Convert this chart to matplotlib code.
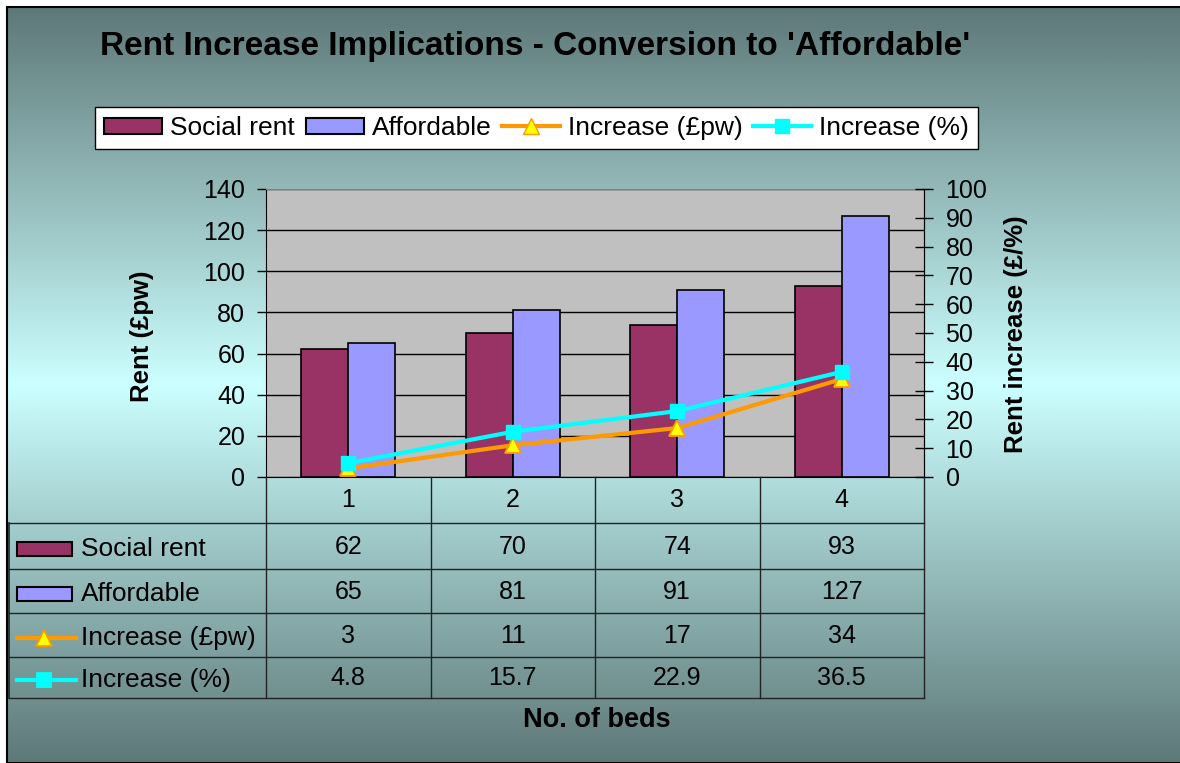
import numpy as np
import matplotlib
matplotlib.use('Agg')
import matplotlib.pyplot as plt
from matplotlib.lines import Line2D
from matplotlib.patches import Patch, Rectangle
from matplotlib.colors import LinearSegmentedColormap

# data
beds = ['1', '2', '3', '4']
social_rent = [62, 70, 74, 93]
affordable = [65, 81, 91, 127]
increase_pw = [3, 11, 17, 34]
increase_pct = [4.8, 15.7, 22.9, 36.5]

series_names = ['Social rent', 'Affordable', 'Increase (£pw)', 'Increase (%)']

W, H = 1180, 763
plt.rcParams['font.family'] = ['Liberation Sans', 'DejaVu Sans']

c_social = '#993366'
c_afford = '#9999FF'
c_pw = '#FF9900'
c_pct = '#00FFFF'
c_bg_dark = '#5E7878'
c_bg_light = '#CCFFFF'
line_w = 3.0


def fx(px):
    return px / W


def fy(py):
    return 1 - py / H


fig = plt.figure(figsize=(W / 100, H / 100), dpi=100)

# gradient background of the chart area
bg = fig.add_axes([fx(7), 0, 1 - fx(7), fy(7)])
bg.set_axis_off()
cmap = LinearSegmentedColormap.from_list('bg', [c_bg_dark, c_bg_light, c_bg_dark])
grad = np.linspace(0, 1, 512).reshape(-1, 1)
bg.imshow(grad, aspect='auto', cmap=cmap, extent=[0, 1, 0, 1])
bg.add_patch(Rectangle((0, 0), 1.01, 1, fill=False, edgecolor='black', lw=1.5,
                       transform=bg.transAxes, clip_on=False))

# main plot area
left, right, top, bottom = 266, 924, 189, 477
ax = fig.add_axes([fx(left), fy(bottom), fx(right - left), (bottom - top) / H])
ax.set_facecolor('#C0C0C0')
x = np.arange(len(beds))
w = 1 / 3.5
ax.bar(x - w / 2, social_rent, w, color=c_social, edgecolor='black', lw=1.2, zorder=3)
ax.bar(x + w / 2, affordable, w, color=c_afford, edgecolor='black', lw=1.2, zorder=3)
ax.set_xlim(-0.5, 3.5)
ax.set_ylim(0, 140)
ax.set_yticks(np.arange(0, 141, 20))
ax.yaxis.grid(True, color='black', lw=1)
ax.set_axisbelow(True)
ax.set_xticks([])
ax.tick_params(axis='y', direction='out', length=6.5, width=1, labelsize=18, pad=8.5)
ax.spines['top'].set_color('#808080')
for s in ['left', 'bottom', 'right']:
    ax.spines[s].set_color('black')
ax.set_ylabel('Rent (£pw)', fontsize=18.5, fontweight='bold')
ax.yaxis.set_label_coords((154 - left) / (right - left), 0.49)

ax2 = ax.twinx()
ax2.plot(x, increase_pw, color=c_pw, lw=line_w, marker='^', ms=11, mfc='#FFFF00',
         mec=c_pw, mew=1.3, zorder=5)
ax2.plot(x, increase_pct, color=c_pct, lw=line_w, marker='s', ms=10, mfc=c_pct,
         mec=c_pct, zorder=6)
ax2.set_ylim(0, 100)
ax2.set_yticks(np.arange(0, 101, 10))
ax2.tick_params(axis='y', direction='inout', length=13, width=1, labelsize=18, pad=9)
ax2.spines['top'].set_visible(False)
ax2.spines['left'].set_visible(False)
ax2.spines['bottom'].set_visible(False)
ax2.set_ylabel('Rent increase (£/%)', fontsize=18.5, fontweight='bold')
ax2.yaxis.set_label_coords(1 + (1004 - right) / (right - left), 0.495)

# data table beneath the plot
tl, tr, tt, tb = 9, 924, 477, 698
colw = (right - left) / 4
x_lo = -0.5 - (left - tl) / colw
tab = fig.add_axes([fx(tl), fy(tb), fx(tr - tl), (tb - tt) / H])
tab.set_xlim(x_lo, 3.5)
tab.set_ylim(tb, tt)
tab.set_axis_off()
rows = [477, 523, 569, 613, 657, 698]
lc = '#222222'
for xv in np.arange(-0.5, 3.6, 1):
    tab.plot([xv, xv], [rows[0], rows[-1]], color=lc, lw=1, clip_on=False)
tab.plot([x_lo, x_lo], [rows[1], rows[-1]], color=lc, lw=1.2, clip_on=False)
for ry in rows[1:]:
    tab.plot([x_lo, 3.5], [ry, ry], color=lc, lw=1, clip_on=False)

for i, b in enumerate(beds):
    tab.text(i, (rows[0] + rows[1]) / 2, b, ha='center', va='center', fontsize=18)

values = [social_rent, affordable, increase_pw, increase_pct]
for r, vals in enumerate(values):
    yc = (rows[r + 1] + rows[r + 2]) / 2
    for i, v in enumerate(vals):
        tab.text(i, yc + 1, '{:g}'.format(v), ha='center', va='center', fontsize=18)
    tab.text(x_lo + (81 - tl) / colw, yc + 3, series_names[r], ha='left', va='center',
             fontsize=19)


def px2x(px):
    return x_lo + (px - tl) / colw


for r, col in enumerate([c_social, c_afford]):
    yc = (rows[r + 1] + rows[r + 2]) / 2 + 3
    tab.add_patch(Rectangle((px2x(17), yc - 7), px2x(72) - px2x(17), 14,
                            facecolor=col, edgecolor='black', lw=1.5))
for r, (col, mk, mf, ms) in enumerate([(c_pw, '^', '#FFFF00', 11), (c_pct, 's', c_pct, 10)]):
    yc = (rows[r + 3] + rows[r + 4]) / 2 + 3
    tab.plot([px2x(17), px2x(76)], [yc, yc], color=col, lw=line_w, clip_on=False)
    tab.plot([px2x(44)], [yc], marker=mk, ms=ms, mfc=mf, mec=col, mew=1.3, clip_on=False)

fig.text(fx(597), fy(720), 'No. of beds', ha='center', va='center', fontsize=19.5,
         fontweight='bold')

fig.text(fx(535), fy(47), "Rent Increase Implications - Conversion to 'Affordable'",
         ha='center', va='center', fontsize=24, fontweight='bold')

handles = [
    Patch(facecolor=c_social, edgecolor='black', lw=1.5),
    Patch(facecolor=c_afford, edgecolor='black', lw=1.5),
    Line2D([], [], color=c_pw, lw=line_w, marker='^', ms=11, mfc='#FFFF00', mec=c_pw),
    Line2D([], [], color=c_pct, lw=line_w, marker='s', ms=10, mfc=c_pct, mec=c_pct),
]
leg = fig.legend(handles, series_names, loc='upper left', ncol=4,
                 bbox_to_anchor=(fx(95), fy(107)), borderaxespad=0, fontsize=19,
                 frameon=True, fancybox=False, edgecolor='black', framealpha=1,
                 handlelength=2.2, handleheight=0.6, handletextpad=0.3,
                 columnspacing=0.4, borderpad=0.35)
leg.get_frame().set_linewidth(1)

fig.savefig('out.png', dpi=100)
